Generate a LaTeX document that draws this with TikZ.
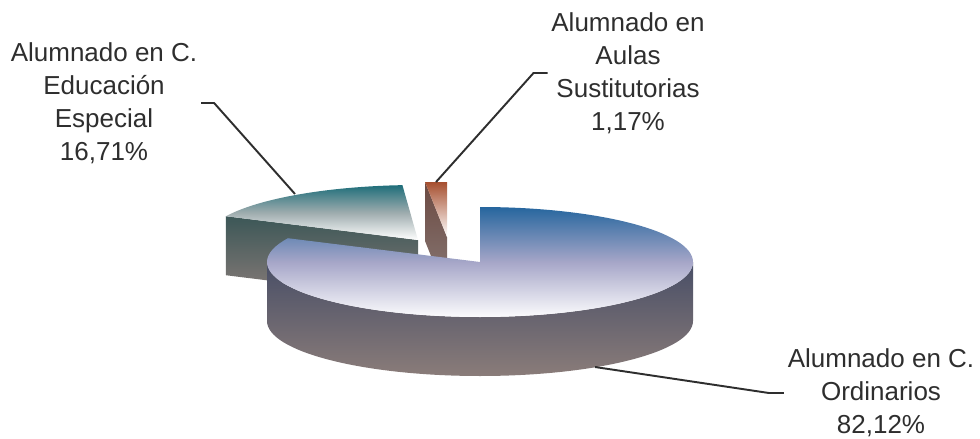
\documentclass[tikz,border=0pt]{standalone}
\usepackage{fontspec}
\setmainfont{Liberation Sans}
\usetikzlibrary{calc}
\definecolor{azul}{HTML}{26669E}
\definecolor{lavanda}{HTML}{A6A6C8}
\definecolor{pizarra}{HTML}{484E66}
\definecolor{pardo}{HTML}{8A7C79}
\definecolor{verdeazul}{HTML}{1F6E7A}
\definecolor{grisverde}{HTML}{9EACAE}
\definecolor{musgo}{HTML}{3C5757}
\definecolor{teja}{HTML}{A64F2F}
\definecolor{marronlado}{HTML}{6C4A42}
\definecolor{texto}{HTML}{2E2E2E}
\begin{document}
\begin{tikzpicture}[x=0.02cm, y=0.02cm,
    etiqueta/.style={align=center, text=texto, inner sep=2pt,
      font=\fontsize{14.8}{18.7}\selectfont},
    guia/.style={draw=texto, line width=1.1pt}]
    \useasboundingbox (0,0) rectangle (980,-439);

    % Centros de los sectores
    \coordinate (centroOrd) at (480,-262);
    \coordinate (centroEsp) at (418,-240);
    \coordinate (centroSus) at (447,-237);

    % Sector C. Educacion Especial
    \shade[top color=musgo, bottom color=pardo] (centroEsp) -- ($(centroEsp)+(154.4:213 and 55)$) -- ++(0,-59) -- ($(centroEsp)+(0,-59)$) -- cycle;
    \shade[top color=verdeazul, bottom color=white, middle color=grisverde] (centroEsp) -- +(94.2:213 and 55) arc[start angle=94.2, end angle=154.4, x radius=213, y radius=55] -- cycle;

    % Sector Aulas Sustitutorias
    \shade[top color=marronlado, bottom color=pardo] (centroSus) -- (425,-182) -- (425,-241) -- ($(centroSus)+(0,-59)$) -- cycle;
    \shade[top color=teja, bottom color=white] (centroSus) -- (447,-182) -- (425,-182) -- cycle;

    % Sector C. Ordinarios
    \shade[top color=pizarra, bottom color=pardo] ($(centroOrd)+(-213,0)$) arc[start angle=180, end angle=360, x radius=213, y radius=55] -- ++(0,-59) arc[start angle=0, end angle=-180, x radius=213, y radius=55] -- cycle;
    \shade[top color=azul, bottom color=white!96!lavanda, middle color=lavanda] (centroOrd) -- +(0,55) arc[start angle=90, end angle=-205.6, x radius=213, y radius=55] -- cycle;

    % Etiquetas
    \node[etiqueta] (lblEsp) at (104,-103) {Alumnado en C.\\Educación\\Especial\\16,71\%};
    \node[etiqueta] (lblSus) at (628,-73) {Alumnado en\\Aulas\\Sustitutorias\\1,17\%};
    \node[etiqueta] (lblOrd) at (881,-393) {Alumnado en C.\\Ordinarios\\82,12\%};

    % Lineas guia
    \coordinate (puntaEsp) at (295,-194);
    \coordinate (puntaSus) at (436,-182);
    \coordinate (puntaOrd) at (595,-367);
    \draw[guia] (lblEsp.east) -- ++(13,0) -- (puntaEsp);
    \draw[guia] (lblSus.west) -- ++(-14,0) -- (puntaSus);
    \draw[guia] (lblOrd.west) -- ++(-15,0) -- (puntaOrd);
\end{tikzpicture}
\end{document}
